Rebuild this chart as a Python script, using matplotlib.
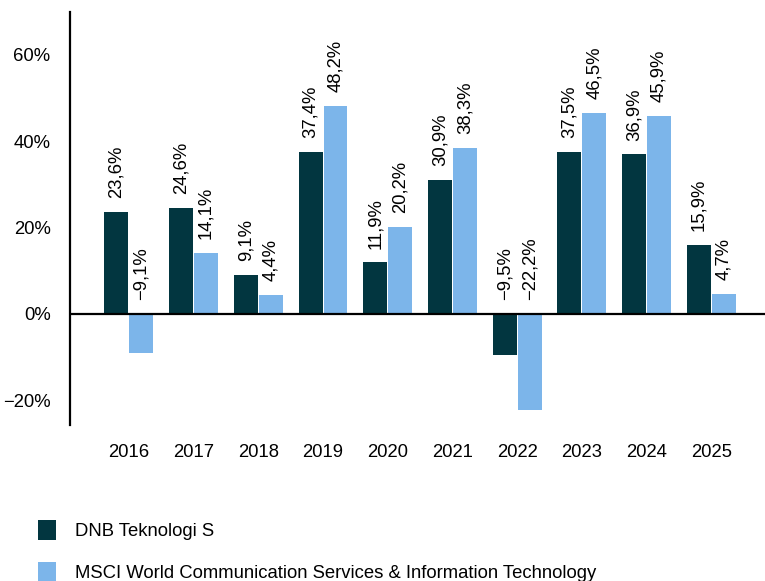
import matplotlib.pyplot as plt
import numpy as np

plt.rcParams['font.family'] = ['Liberation Sans', 'DejaVu Sans']
plt.rcParams['font.size'] = 13.3

years = ['2016', '2017', '2018', '2019', '2020', '2021', '2022', '2023', '2024', '2025']
fund = [23.6, 24.6, 9.1, 37.4, 11.9, 30.9, -9.5, 37.5, 36.9, 15.9]
index = [-9.1, 14.1, 4.4, 48.2, 20.2, 38.3, -22.2, 46.5, 45.9, 4.7]
series_names = ['DNB Teknologi S', 'MSCI World Communication Services & Information Technology']
colors = ['#023640', '#7cb5ea']


def fmt(v):
    s = ('%.1f%%' % abs(v)).replace('.', ',')
    return ('\u2212' + s) if v < 0 else s


fig = plt.figure(figsize=(7.65, 5.81), dpi=100)
ax = fig.add_axes([0.0915, 0.2685, 0.9085, 0.7105])

x = np.arange(len(years))
w = 0.37
gap = 0.015
for vals, off, c, name in [(fund, -(w + gap) / 2, colors[0], series_names[0]),
                           (index, (w + gap) / 2, colors[1], series_names[1])]:
    ax.bar(x + off, vals, w, color=c, label=name, zorder=2)
    for xi, v in zip(x + off, vals):
        ax.annotate(fmt(v), (xi, max(v, 0)), xytext=(0, 10), textcoords='offset points',
                    rotation=90, ha='center', va='bottom')

# zero line across the whole plot
ax.axhline(0, color='black', linewidth=1.6, zorder=3)
ax.set_xlim(-0.91, 9.83)
ax.set_ylim(-25.7, 69.8)
ax.set_yticks([-20, 0, 20, 40, 60])
ax.set_yticklabels([fmt(t).replace(',0', '') for t in [-20, 0, 20, 40, 60]])
ax.set_xticks(x)
ax.set_xticklabels(years)
ax.tick_params(axis='both', length=0)
ax.tick_params(axis='y', pad=14)
ax.tick_params(axis='x', pad=14)

for s in ['top', 'right', 'bottom']:
    ax.spines[s].set_visible(False)
ax.spines['left'].set_linewidth(1.6)

fig.legend(loc='upper left', bbox_to_anchor=(0.04, 0.117), frameon=False,
           handlelength=0.95, handleheight=1.25, handletextpad=1.05, labelspacing=1.15,
           borderaxespad=0)

plt.savefig('out.png')
